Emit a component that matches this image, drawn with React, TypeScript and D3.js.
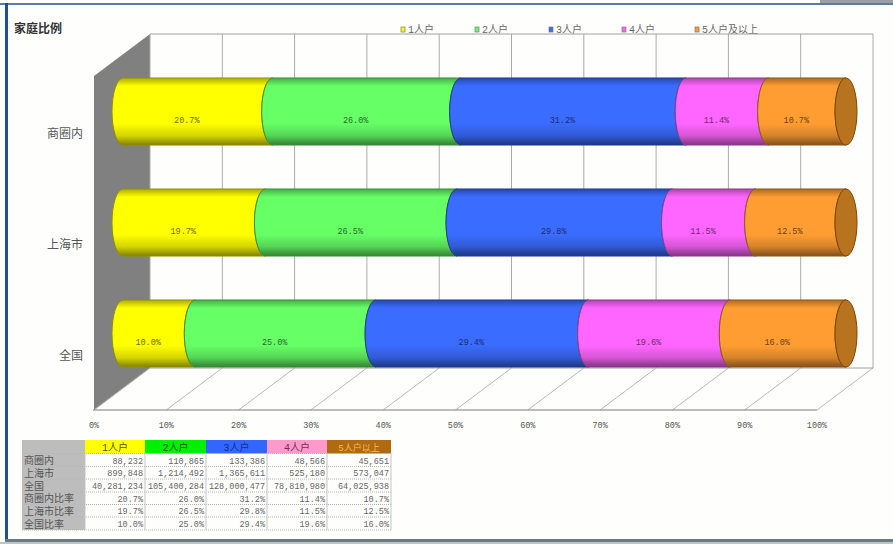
import React from "react";
import * as d3 from "d3";

// Household composition by area, as a stacked 3D cylinder chart with a data table.
const areas = ["商圈内", "上海市", "全国"];
const householdTypes = ["1人户", "2人户", "3人户", "4人户", "5人户及以上"];
const tableHeaders = ["1人户", "2人户", "3人户", "4人户", "5人户以上"];
const shareCommercial = [20.7, 26.0, 31.2, 11.4, 10.7];
const shareShanghai = [19.7, 26.5, 29.8, 11.5, 12.5];
const shareNational = [10.0, 25.0, 29.4, 19.6, 16.0];
const countCommercial = ["88,232", "110,865", "133,386", "48,566", "45,651"];
const countShanghai = ["899,848", "1,214,492", "1,365,611", "525,180", "573,047"];
const countNational = ["40,281,234", "105,400,284", "128,000,477", "78,810,980", "64,025,938"];
const tableRowLabels = ["商圈内", "上海市", "全国", "商圈内比率", "上海市比率", "全国比率"];
const segmentColors = ["#ffff00", "#66ff66", "#3a6cff", "#ff66ff", "#ff9d33"];
const headerColors = ["#ffff00", "#00f000", "#3366ff", "#ff99cc", "#b06a12"];
const headerTextColors = ["#555500", "#005500", "#12308a", "#7a2a50", "#ffb84d"];
const percentTicks = [0, 10, 20, 30, 40, 50, 60, 70, 80, 90, 100];

const shares = [shareCommercial, shareShanghai, shareNational];

const WIDTH = 893;
const HEIGHT = 544;
const FLOOR_FRONT = 410;
const FLOOR_BACK = 368;
const WALL_TOP = 34;
const RX = 11;
const LATIN_CJK = "'Liberation Mono','Noto Sans CJK SC',monospace";

const xFront = d3.scaleLinear().domain([0, 100]).range([94, 817]);
const xBack = d3.scaleLinear().domain([0, 100]).range([150, 873]);
const xBar = d3.scaleLinear().domain([0, 100]).range([123, 846]);
const yBar = d3
  .scaleBand<string>()
  .domain(areas)
  .range([56, 389])
  .paddingInner(0.396)
  .paddingOuter(0.198);

const tableCols = [22, 85, 145, 206, 267, 327, 391];
const tableRows = [440, 453.5, 466.5, 479, 492, 504.5, 517, 530];

function segmentPath(x0: number, x1: number, top: number, bottom: number) {
  const ry = (bottom - top) / 2;
  return `M${x0},${top}A${RX},${ry} 0 0 0 ${x0},${bottom}L${x1},${bottom}A${RX},${ry} 0 0 1 ${x1},${top}Z`;
}

function shade(color: string, k: number) {
  return d3.color(color)!.darker(k).formatHex();
}

function Cylinder({ area, values }: { area: string; values: number[] }) {
  const top = yBar(area)!;
  const bottom = top + yBar.bandwidth();
  const mid = (top + bottom) / 2;
  const stack = d3.cumsum(values);
  return (
    <g>
      {values.map((v, i) => {
        const start = i === 0 ? 0 : stack[i - 1];
        const end = i === values.length - 1 ? 100 : stack[i];
        const x0 = xBar(start);
        const x1 = xBar(end);
        return (
          <g key={i}>
            <path
              d={segmentPath(x0, x1, top, bottom)}
              fill={`url(#band-${i})`}
              stroke={shade(segmentColors[i], 1.6)}
              strokeWidth={1}
            />
            <text
              x={(x0 + x1) / 2 - RX}
              y={mid + 11}
              textAnchor="middle"
              fontFamily={LATIN_CJK}
              fontSize={8.5}
              fill={shade(segmentColors[i], 2.4)}
            >
              {v.toFixed(1)}%
            </text>
          </g>
        );
      })}
      <ellipse
        cx={xBar(100)}
        cy={mid}
        rx={RX}
        ry={(bottom - top) / 2}
        fill="#b8731f"
        stroke="#7a4608"
        strokeWidth={1}
      />
    </g>
  );
}

function DataTable() {
  const body = [
    ...[countCommercial, countShanghai, countNational],
    ...shares.map((row) => row.map((v) => `${v.toFixed(1)}%`)),
  ];
  return (
    <g>
      <rect
        x={tableCols[0]}
        y={tableRows[0]}
        width={tableCols[1] - tableCols[0]}
        height={tableRows[7] - tableRows[0]}
        fill="#bdbdbd"
      />
      {tableHeaders.map((h, i) => (
        <g key={h}>
          <rect
            x={tableCols[i + 1]}
            y={tableRows[0]}
            width={tableCols[i + 2] - tableCols[i + 1]}
            height={tableRows[1] - tableRows[0]}
            fill={headerColors[i]}
          />
          <text
            x={(tableCols[i + 1] + tableCols[i + 2]) / 2}
            y={tableRows[1] - 3}
            textAnchor="middle"
            fontFamily={LATIN_CJK}
            fontSize={i === 4 ? 9 : 10}
            fill={headerTextColors[i]}
          >
            {h}
          </text>
        </g>
      ))}
      {tableRows.slice(1).map((y) => (
        <line key={y} x1={tableCols[0]} x2={tableCols[6]} y1={y} y2={y} stroke="#b5b5b5" strokeDasharray="1 1" />
      ))}
      {tableCols.slice(1).map((x) => (
        <line key={x} x1={x} x2={x} y1={tableRows[1]} y2={tableRows[7]} stroke="#c4c4c4" />
      ))}
      {tableRowLabels.map((label, r) => (
        <text
          key={label}
          x={tableCols[0] + 2}
          y={tableRows[r + 2] - 2.5}
          fontFamily={LATIN_CJK}
          fontSize={10}
          fill="#555"
        >
          {label}
        </text>
      ))}
      {body.map((row, r) =>
        row.map((cell, c) => (
          <text
            key={`${r}-${c}`}
            x={tableCols[c + 2] - 2}
            y={tableRows[r + 2] - 3}
            textAnchor="end"
            fontFamily={LATIN_CJK}
            fontSize={8.5}
            fill="#666"
          >
            {cell}
          </text>
        )),
      )}
    </g>
  );
}

export default function App() {
  return (
    <svg
      width={WIDTH}
      height={HEIGHT}
      viewBox={`0 0 ${WIDTH} ${HEIGHT}`}
      style={{ position: "absolute", left: 0, top: 0, display: "block" }}
    >
      <defs>
        {segmentColors.map((c, i) => (
          <linearGradient key={c} id={`band-${i}`} x1="0" y1="0" x2="0" y2="1">
            <stop offset="0" stopColor={shade(c, 1.1)} />
            <stop offset="0.12" stopColor={c} />
            <stop offset="0.68" stopColor={c} />
            <stop offset="0.86" stopColor={shade(c, 0.5)} />
            <stop offset="1" stopColor={shade(c, 1.9)} />
          </linearGradient>
        ))}
      </defs>
      <rect width={WIDTH} height={HEIGHT} fill="#fefffd" />

      {/* page frame */}
      <rect x={0} y={3} width={WIDTH} height={2} fill="#5a7ba6" />
      <rect x={820} y={0} width={73} height={3} fill="#9a9fa8" />
      <rect x={5} y={3} width={3} height={537} fill="#1f4f8f" />
      <rect x={5} y={539} width={WIDTH - 5} height={3} fill="#6b7b7b" />
      <rect x={0} y={542} width={WIDTH} height={2} fill="#b9c4cc" />

      <text x={14} y={33} fontFamily="'Noto Sans CJK SC'" fontSize={12} fontWeight={700} fill="#333">
        家庭比例
      </text>

      {/* legend */}
      {householdTypes.map((name, i) => {
        const lx = [404, 478, 552, 625, 698][i];
        return (
          <g key={name}>
            <rect x={lx - 3} y={27} width={4} height={5} fill={segmentColors[i]} stroke="#777" strokeWidth={0.7} />
            <text x={lx + 4} y={33} fontFamily={LATIN_CJK} fontSize={10} fill="#666">
              {name}
            </text>
          </g>
        );
      })}

      {/* left wall */}
      <path
        d={`M${xFront(0)},${FLOOR_FRONT}L${xFront(0)},${WALL_TOP + 42}L${xBack(0)},${WALL_TOP}L${xBack(0)},${FLOOR_BACK}Z`}
        fill="#808080"
      />

      {/* back wall and floor grid */}
      {percentTicks.map((t) => (
        <g key={t}>
          <line x1={xBack(t)} x2={xBack(t)} y1={WALL_TOP} y2={FLOOR_BACK} stroke="#aaaaaa" />
          <line x1={xFront(t)} x2={xBack(t)} y1={FLOOR_FRONT} y2={FLOOR_BACK} stroke="#b8b8b8" />
        </g>
      ))}
      <line x1={xBack(0)} x2={xBack(100)} y1={WALL_TOP} y2={WALL_TOP} stroke="#a0a0a0" />
      <line x1={xBack(0)} x2={xBack(100)} y1={FLOOR_BACK} y2={FLOOR_BACK} stroke="#a0a0a0" />
      <line x1={xFront(0) - 1} x2={xFront(100)} y1={FLOOR_FRONT} y2={FLOOR_FRONT} stroke="#7d7d7d" strokeWidth={1.2} />

      {percentTicks.map((t) => (
        <text
          key={t}
          x={xFront(t)}
          y={428}
          textAnchor="middle"
          fontFamily={LATIN_CJK}
          fontSize={8.5}
          fill="#555"
        >
          {t}%
        </text>
      ))}

      {areas.map((a) => (
        <text
          key={a}
          x={83}
          y={yBar(a)! + yBar.bandwidth() / 2 + 26}
          textAnchor="end"
          fontFamily="'Noto Sans CJK SC'"
          fontSize={12}
          fill="#555"
        >
          {a}
        </text>
      ))}

      {areas.map((a, i) => (
        <Cylinder key={a} area={a} values={shares[i]} />
      ))}

      <DataTable />
    </svg>
  );
}
